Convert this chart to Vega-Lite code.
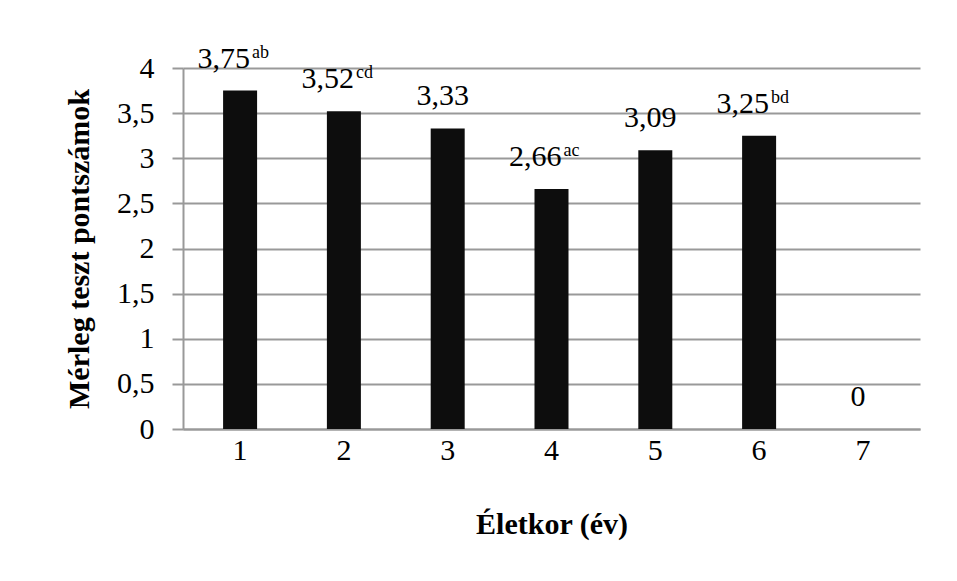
{
  "$schema": "https://vega.github.io/schema/vega-lite/v6.json",
  "width": 737,
  "height": 361,
  "autosize": "none",
  "padding": {"left": 183, "top": 68, "right": 37, "bottom": 152},
  "background": "white",
  "data": {"values": [
    {"age": "1", "value": 3.75, "sup": "ab"},
    {"age": "2", "value": 3.52, "sup": "cd"},
    {"age": "3", "value": 3.33, "sup": ""},
    {"age": "4", "value": 2.66, "sup": "ac"},
    {"age": "5", "value": 3.09, "sup": ""},
    {"age": "6", "value": 3.25, "sup": "bd"},
    {"age": "7", "value": 0, "sup": ""}
  ]},
  "config": {
    "view": {"stroke": null},
    "font": "Liberation Serif"
  },
  "transform": [
    {"calculate": "replace(format(datum.value, '.2~f'), '.', ',')", "as": "label"}
  ],
  "encoding": {
    "x": {
      "field": "age", "type": "ordinal",
      "scale": {"paddingInner": 0, "paddingOuter": 0.05},
      "axis": {
        "title": "Életkor (év)", "labelAngle": 0,
        "labelFont": "Liberation Serif", "labelFontSize": 30, "labelColor": "#000",
        "labelPadding": 6, "ticks": false,
        "domainColor": "#999", "domainWidth": 2,
        "titleFont": "Liberation Serif", "titleFontSize": 30, "titleFontWeight": "bold",
        "titleColor": "#000", "titlePadding": 44
      }
    }
  },
  "layer": [
    {
      "mark": {"type": "bar", "color": "#0d0d0d", "size": 34},
      "encoding": {
        "y": {
          "field": "value", "type": "quantitative",
          "scale": {"domain": [0, 4]},
          "axis": {
            "title": "Mérleg teszt pontszámok",
            "values": [0, 0.5, 1, 1.5, 2, 2.5, 3, 3.5, 4],
            "format": ".1~f",
            "labelExpr": "replace(datum.label, '.', ',')",
            "labelFont": "Liberation Serif", "labelFontSize": 30, "labelColor": "#000",
            "labelPadding": 18, "tickSize": 11, "tickColor": "#999", "tickWidth": 2,
            "domainColor": "#999", "domainWidth": 2,
            "gridColor": "#999", "gridWidth": 2,
            "titleFont": "Liberation Serif", "titleFontSize": 30, "titleFontWeight": "bold",
            "titleColor": "#000", "titlePadding": 22
          }
        }
      }
    },
    {
      "transform": [{"filter": "datum.sup != ''"}],
      "mark": {"type": "text", "align": "right", "baseline": "alphabetic", "dx": 10, "dy": -23, "fontSize": 30, "font": "Liberation Serif", "color": "#000"},
      "encoding": {
        "y": {"field": "value", "type": "quantitative"},
        "text": {"field": "label"}
      }
    },
    {
      "transform": [{"filter": "datum.sup != ''"}],
      "mark": {"type": "text", "align": "left", "baseline": "alphabetic", "dx": 12, "dy": -33, "fontSize": 18, "font": "Liberation Serif", "color": "#000"},
      "encoding": {
        "y": {"field": "value", "type": "quantitative"},
        "text": {"field": "sup"}
      }
    },
    {
      "transform": [{"filter": "datum.sup == ''"}],
      "mark": {"type": "text", "align": "center", "baseline": "alphabetic", "dx": -5, "dy": -23, "fontSize": 30, "font": "Liberation Serif", "color": "#000"},
      "encoding": {
        "y": {"field": "value", "type": "quantitative"},
        "text": {"field": "label"}
      }
    }
  ]
}
